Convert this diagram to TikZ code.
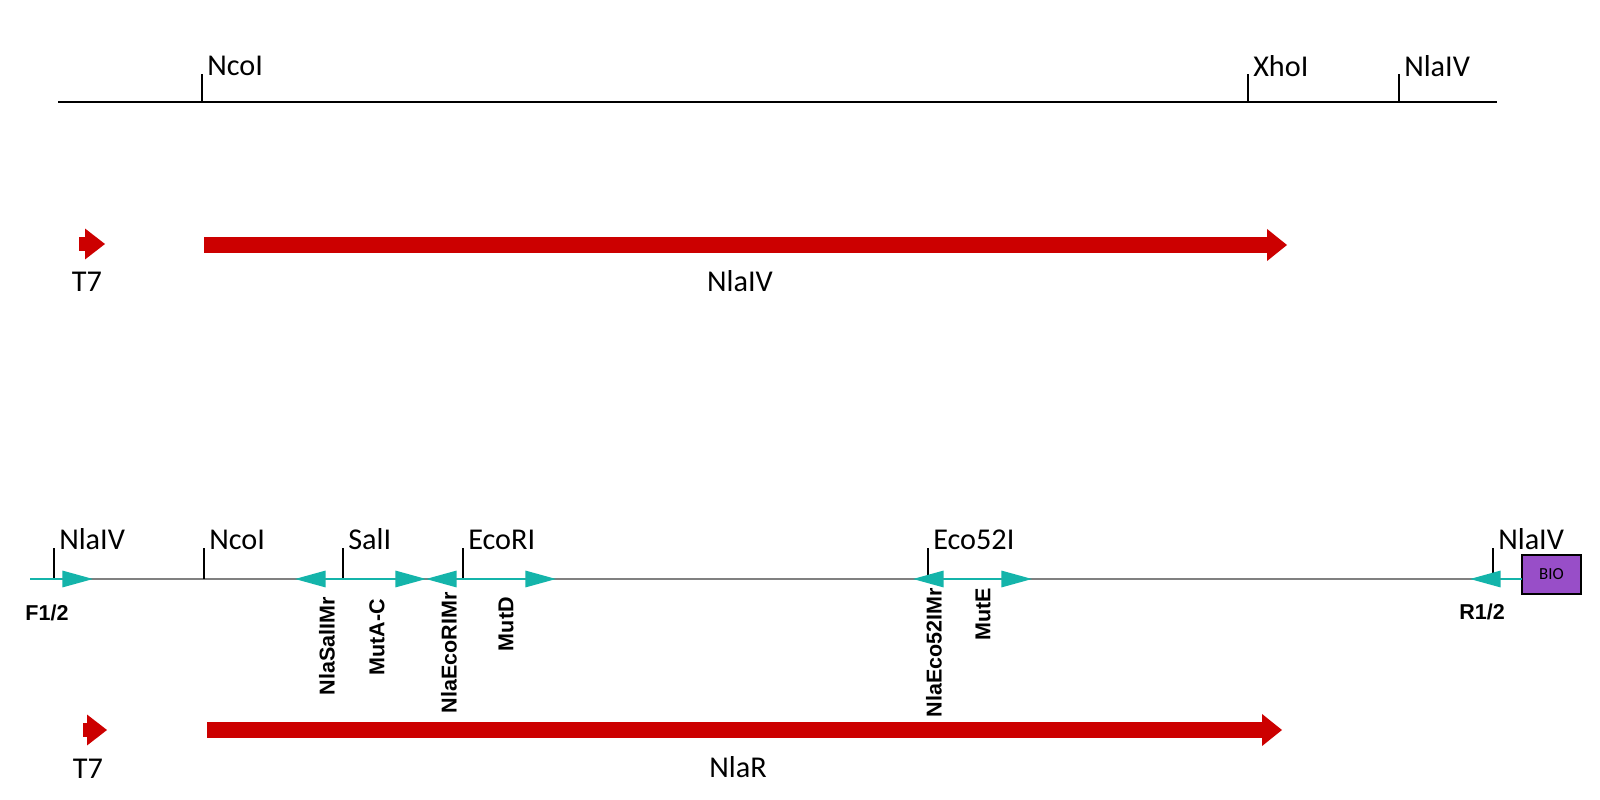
\documentclass[tikz,border=0pt]{standalone}
\usepackage{fontspec}
\setmainfont{Carlito}
\newfontfamily\arialfam{Liberation Sans}
\usetikzlibrary{arrows.meta}
\usetikzlibrary{positioning}
\definecolor{genered}{RGB}{204,0,0}
\definecolor{primerteal}{RGB}{20,180,170}
\definecolor{biopurple}{RGB}{152,78,200}
\newcommand{\sitefont}{\fontsize{21.5}{24}\selectfont}
\newcommand{\oligofont}{\arialfam\bfseries\fontsize{15.3}{17}\selectfont}

\begin{document}
\begin{tikzpicture}[x=0.025cm,y=-0.025cm,
    site/.style={anchor=base west,inner sep=0pt,font=\sitefont},
    genelab/.style={anchor=base,inner sep=0pt,font=\sitefont},
    primerlab/.style={anchor=base,inner sep=0pt,font=\oligofont},
    oligo/.style={rotate=90,anchor=east,inner sep=0pt,font=\oligofont},
    gene/.style={genered,line width=11.4pt,-{Triangle[length=14.2pt,width=22.8pt,line width=0pt]}},
    promoter/.style={genered,line width=10pt,-{Triangle[length=14.2pt,width=22pt,line width=0pt]}},
    primer/.style={primerteal,line width=1.8pt,-{Triangle[length=21.7pt,width=12pt,line width=0pt]}},
    sitetick/.style={black,line width=0.8pt}]
    \useasboundingbox (0,0) rectangle (1600,800);

    % NlaIV construct
    \draw[black,line width=1.4pt] (58,102) -- (1497,102);
    \draw[black,line width=1.4pt] (202,102) -- (202,74);
    \draw[black,line width=1.4pt] (1248,102) -- (1248,74);
    \draw[black,line width=1.4pt] (1399,102) -- (1399,74);
    \node[site] (ncoiA) at (207,76) {NcoI};
    \node[site] (xhoiA) at (1253,77) {XhoI};
    \node[site] (nlaivA) at (1404,77) {NlaIV};

    \draw[promoter] (79,244) -- (105,244);
    \node[genelab] (t7A) at (87,292) {T7};
    \draw[gene] (204,245) -- (1287,245);
    \node[genelab] (nlaivGene) at (740,292) {NlaIV};

    % NlaR construct
    \coordinate (mapL) at (30,579);
    \coordinate (mapR) at (1522,579);
    \coordinate (f12) at (93,579);
    \coordinate (sali) at (343,579);
    \coordinate (ecori) at (463,579);
    \coordinate (eco52i) at (945,579);
    \coordinate (sallmr) at (295,579);
    \coordinate (mutac) at (426,579);
    \coordinate (mutd) at (556,579);
    \coordinate (eco52mr) at (913,579);
    \coordinate (mute) at (1032,579);
    \coordinate (r12) at (1470,579);

    \draw[gray,line width=1.3pt] (mapL) -- (mapR);
    \draw[sitetick] (54,579) -- (54,548);
    \draw[sitetick] (204,579) -- (204,548);
    \draw[sitetick] (343,579) -- (343,548);
    \draw[sitetick] (463,579) -- (463,548);
    \draw[sitetick] (928,579) -- (928,548);
    \draw[sitetick] (1493,579) -- (1493,548);
    \node[site] (nlaivB) at (59,549) {NlaIV};
    \node[site] (ncoiB) at (209,549) {NcoI};
    \node[site] (saliB) at (348,549) {SalI};
    \node[site] (ecoriB) at (468,549) {EcoRI};
    \node[site] (eco52iB) at (933,549) {Eco52I};
    \node[site] (nlaivC) at (1498,549) {NlaIV};

    \node[draw=black,line width=0.8pt,fill=biopurple,minimum width=1.475cm,minimum height=0.975cm,
          inner sep=0pt,font=\fontsize{12}{14}\selectfont] (bio) at (1551.5,574.5) {BIO};

    \draw[primer] (mapL) -- (f12);
    \draw[primer] (sali) -- (sallmr);
    \draw[primer] (sali) -- (mutac);
    \draw[primer] (ecori) -- (mutac);
    \draw[primer] (ecori) -- (mutd);
    \draw[primer] (eco52i) -- (eco52mr);
    \draw[primer] (eco52i) -- (mute);
    \draw[primer] (mapR) -- (r12);

    \node[primerlab] (f12lab) at (47,620) {F1/2};
    \node[primerlab] (r12lab) at (1482,619) {R1/2};
    \node[oligo] (sallmrlab) at (327,597) {NlaSalIMr};
    \node[oligo] (mutaclab) at (377,599) {MutA-C};
    \node[oligo] (ecormrlab) at (449,592) {NlaEcoRIMr};
    \node[oligo] (mutdlab) at (506,597) {MutD};
    \node[oligo] (eco52mrlab) at (934,588) {NlaEco52IMr};
    \node[oligo] (mutelab) at (983,588) {MutE};

    \draw[promoter] (83,730) -- (107,730);
    \node[genelab] (t7B) at (88,778) {T7};
    \draw[gene] (207,730) -- (1282,730);
    \node[genelab] (nlarGene) at (738,777) {NlaR};
\end{tikzpicture}
\end{document}
